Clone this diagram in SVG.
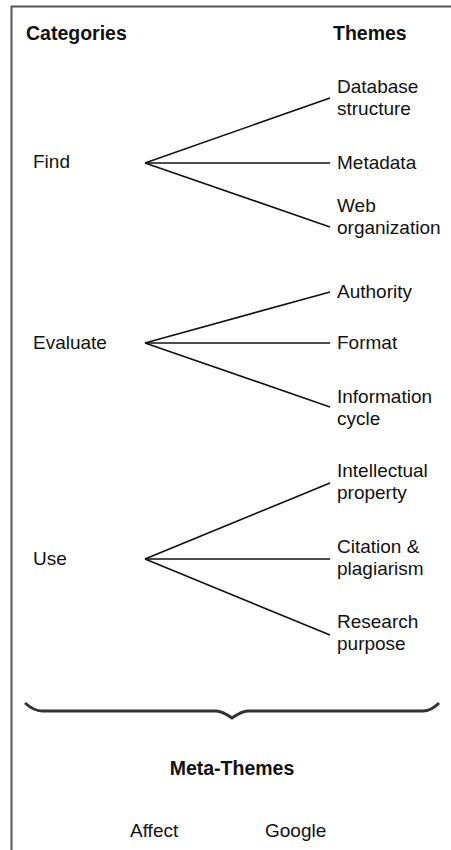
<svg xmlns="http://www.w3.org/2000/svg" width="451" height="850" viewBox="0 0 451 850">
<style>
text{font-family:"Liberation Sans",Arial,sans-serif;font-size:19px;fill:#111}
.b{font-weight:bold;font-size:19.5px}
.c line{stroke:#111;stroke-width:1.6}
</style>
<rect width="451" height="850" fill="#fff"/>
<g id="frame"><path d="M11.5 850 V6.5 H451" fill="none" stroke="#555" stroke-width="2"/></g>
<g id="headers">
<text class="b" x="26" y="40">Categories</text>
<text class="b" x="333" y="40">Themes</text>
</g>
<g id="find"><text x="33" y="168">Find</text></g>
<g id="evaluate"><text x="33" y="349">Evaluate</text></g>
<g id="use"><text x="33" y="565">Use</text></g>
<g id="t-database"><text x="337" y="93">Database</text><text x="337" y="115">structure</text></g>
<g id="t-metadata"><text x="337" y="169">Metadata</text></g>
<g id="t-web"><text x="337" y="212">Web</text><text x="337" y="234">organization</text></g>
<g id="t-authority"><text x="337" y="298">Authority</text></g>
<g id="t-format"><text x="337" y="349">Format</text></g>
<g id="t-infocycle"><text x="337" y="403">Information</text><text x="337" y="425">cycle</text></g>
<g id="t-ip"><text x="337" y="477">Intellectual</text><text x="337" y="499">property</text></g>
<g id="t-citation"><text x="337" y="553">Citation &amp;</text><text x="337" y="575">plagiarism</text></g>
<g id="t-research"><text x="337" y="628">Research</text><text x="337" y="650">purpose</text></g>
<g id="connectors" class="c">
<line x1="145" y1="163" x2="330" y2="98"/>
<line x1="145" y1="163" x2="330" y2="163"/>
<line x1="145" y1="163" x2="330" y2="227"/>
<line x1="145" y1="343" x2="330" y2="292"/>
<line x1="145" y1="343" x2="330" y2="343"/>
<line x1="145" y1="343" x2="330" y2="407"/>
<line x1="145" y1="559" x2="330" y2="483"/>
<line x1="145" y1="559" x2="330" y2="559"/>
<line x1="145" y1="559" x2="330" y2="635"/>
</g>
<g id="brace"><path d="M25 703 Q34 711 42 711 H216 Q222 711 232 718 Q242 711 248 711 H423 Q431 711 439 703" fill="none" stroke="#333" stroke-width="3"/></g>
<g id="meta">
<text class="b" x="232" y="775" text-anchor="middle">Meta-Themes</text>
<text x="130" y="837">Affect</text>
<text x="265" y="837">Google</text>
</g>
</svg>
